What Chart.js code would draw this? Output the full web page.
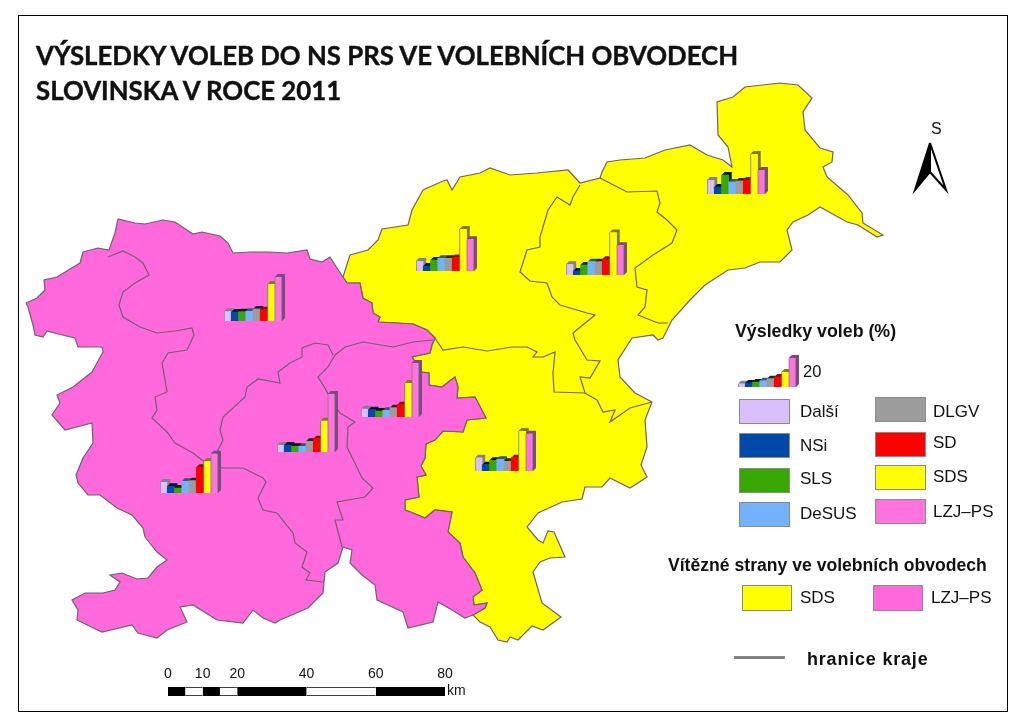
<!DOCTYPE html>
<html lang="cs">
<head>
<meta charset="utf-8">
<title>Výsledky voleb do NS PRS</title>
<script src="https://cdn.jsdelivr.net/npm/chart.js@4/dist/chart.umd.min.js"></script>
<style>
    html, body { margin: 0; padding: 0; background: #fff; overflow: hidden; }
    #page { position: relative; width: 1024px; height: 724px; overflow: hidden; }
    #page canvas { position: absolute; }
    .txt { position: absolute; white-space: nowrap; transform: translateY(-50%); color: #111; font-family: "Liberation Sans", Arial, sans-serif; }
    .box { position: absolute; box-sizing: border-box; border: 1.5px solid #8a8a8a; }
    #frame { position: absolute; left: 18px; top: 15px; width: 988px; height: 695px; border: 1px solid #000; }
</style>
</head>
<body>
<div id="page">
    <div id="frame"></div>
    <canvas id="mapChart" width="1024" height="724" style="left:0;top:0"></canvas>
</div>
<script>
// Parties, in bar order
const parties = ['Další', 'NSi', 'SLS', 'DeSUS', 'DLGV', 'SD', 'SDS', 'LZJ–PS'];
const partyColors = ['#d9bffc', '#0049a8', '#38a800', '#73b2ff', '#9c9c9c', '#ff0000', '#ffff00', '#ff73df'];
const partyDepthColors = ['#85808f', '#04122e', '#0c1a06', '#3b5270', '#26262a', '#7a1410', '#807a18', '#7c4a80'];

// Results in percent per district
const vysledkyMaribor = [9.7, 4.8, 13.1, 8.3, 9.0, 9.7, 27.6, 16.6];
const vysledkyCelje = [7.4, 2.8, 6.9, 9.2, 9.2, 10.8, 29.4, 20.5];
const vysledkyKranj = [6.9, 3.4, 7.6, 8.8, 8.8, 9.4, 29.0, 21.9];
const vysledkyPostojna = [6.7, 6.2, 6.4, 6.7, 8.3, 7.8, 25.5, 30.3];
const vysledkyLjubljanaC = [5.7, 5.0, 4.1, 4.6, 6.4, 8.5, 23.4, 37.2];
const vysledkyLjubljanaB = [4.8, 4.8, 3.9, 3.9, 7.4, 9.2, 21.6, 40.0];
const vysledkyKoper = [7.6, 4.6, 3.4, 8.1, 8.5, 17.7, 21.9, 27.1];
const vysledkyNovoMesto = [9.2, 4.3, 7.4, 8.1, 6.7, 9.2, 27.6, 25.7];
const vysledkyLegenda = [2.3, 2.8, 3.4, 4.3, 5.7, 6.9, 10.3, 20];

// Scale bar segments in km
const scaleBarStops = [0, 5, 10, 15, 20, 40, 60, 80];
const scaleBarTicks = [0, 10, 20, 40, 60, 80];

// Map outlines, in page-sized map units
const pinkOutline = [
    [26,303],[37,298],[45,290],[44,280],[57,277],[70,269],[80,263],[83,252],[98,248],[109,250],[115,233],[118,219],
    [135,223],[145,224],[163,220],[175,222],[193,234],[202,232],[220,236],[228,243],[233,253],[250,252],[268,252],
    [287,253],[307,250],[310,259],[322,262],[330,257],[337,268],[343,277],
    [347,283],[360,283],[363,298],[372,303],[373,313],[380,317],[378,322],[397,323],[413,324],[427,330],[435,338],
    [432,345],[430,353],[412,357],[422,372],[429,373],[429,385],[442,387],[455,377],[458,387],[457,398],[475,397],
    [486,418],[467,420],[463,432],[443,431],[435,440],[426,444],[425,458],[421,466],[426,475],[417,477],[419,497],
    [405,500],[405,510],[413,513],[425,518],[435,510],[452,512],[448,532],[460,543],[463,557],[475,573],[482,590],
    [473,597],[474,605],[487,603],[485,608],[473,615],
    [465,618],[452,610],[438,602],[433,622],[408,628],[403,612],[390,606],[377,600],[375,585],[362,575],[350,563],
    [352,550],[343,547],[338,563],[325,572],[323,593],[308,608],[280,620],[275,623],[263,618],[253,610],[243,623],
    [217,620],[193,605],[180,607],[187,622],[167,630],[157,638],[138,633],[132,625],[102,632],[77,620],[78,610],
    [72,600],[85,593],[103,593],[115,590],[120,582],[110,575],[122,573],[137,579],[148,578],[157,567],[167,560],
    [157,552],[145,537],[143,528],[132,515],[117,508],[100,495],[88,495],[78,483],[76,475],[83,458],[93,443],
    [92,423],[65,430],[52,415],[60,403],[57,395],[73,387],[92,372],[103,352],[102,347],[78,347],[75,338],[58,334],
    [47,331],[43,337],[35,335],[33,325],[28,307]
];
const yellowOutline = [
    [343,277],[350,255],[368,250],[378,240],[382,229],[408,225],[412,210],[423,190],[443,181],[447,180],[452,190],
    [460,177],[480,173],[490,168],[510,175],[537,173],[568,170],[580,183],[600,178],[602,172],[607,162],[620,160],
    [645,158],[665,150],[690,145],[707,155],[723,160],[732,167],[728,147],[718,135],[717,102],[733,97],[745,87],
    [780,83],[798,85],[812,98],[803,112],[805,130],[820,148],[833,152],[832,162],[823,167],[827,177],[848,195],
    [862,213],[863,223],[883,235],[877,237],[858,225],[847,222],[820,207],[808,215],[793,222],[787,230],[792,250],
    [780,262],[760,262],[745,268],[728,270],[705,285],[690,300],[672,320],[668,328],[663,338],[658,340],[653,335],
    [632,338],[618,360],[620,377],[635,393],[652,402],[645,420],[647,447],[641,465],[647,477],[630,488],[610,478],
    [602,487],[585,487],[582,499],[562,502],[538,513],[527,527],[538,540],[543,543],[548,531],[554,532],[565,557],
    [550,558],[540,562],[533,572],[542,603],[561,617],[543,630],[532,626],[518,640],[510,637],[507,642],[498,640],
    [490,627],[480,622],[473,615],
    [485,608],[487,603],[474,605],[473,597],[482,590],[475,573],[463,557],[460,543],[448,532],[452,512],[435,510],
    [425,518],[413,513],[405,510],[405,500],[419,497],[417,477],[426,475],[421,466],[425,458],[426,444],[435,440],
    [443,431],[463,432],[467,420],[486,418],[475,397],[457,398],[458,387],[455,377],[442,387],[429,385],[429,373],
    [422,372],[412,357],[430,353],[432,345],[435,338],[427,330],[413,324],[397,323],[378,322],[380,317],[373,313],
    [372,303],[363,298],[360,283],[347,283]
];

// Region borders inside the two areas
const krajBorders = [
    [[108,257],[123,251],[135,257],[143,263],[149,275],[135,283],[123,292],[119,305],[123,317],[140,327],[157,333],
     [175,331],[192,328],[194,335],[187,350],[168,353],[162,363],[165,380],[167,392],[155,397],[157,410],[152,418],
     [167,432],[175,443],[193,453],[202,460],[213,466]],
    [[333,355],[328,345],[315,343],[302,348],[302,357],[290,363],[278,372],[280,383],[258,379],[247,387],[245,397],
     [223,417],[220,430],[223,440],[217,452],[213,466],[223,468],[243,468],[263,478],[266,482],[258,498],[263,510],
     [277,513],[293,533],[295,543],[307,552],[302,567],[310,573],[306,580],[323,582]],
    [[433,340],[413,342],[393,347],[363,342],[345,347],[335,355],[328,367],[318,377],[325,388],[330,398],[340,413],
     [355,422],[348,427],[347,447],[350,453],[362,478],[373,488],[365,497],[337,502],[343,520],[335,520],[342,547]],
    [[435,338],[443,350],[463,347],[487,351],[512,347],[527,347],[537,352],[533,357],[543,357],[555,352],[553,373],
     [554,392],[585,393],[597,400],[603,412],[615,410],[610,422],[630,408],[652,402]],
    [[585,393],[580,377],[590,378],[600,361],[587,360],[575,340],[573,333],[595,315],[587,313],[560,305],[552,297],
     [547,283],[530,281],[520,272],[527,250],[540,247],[540,237],[548,210],[557,197],[570,205],[573,197],[580,185]],
    [[600,178],[627,192],[657,191],[660,203],[657,212],[667,220],[677,230],[672,243],[653,255],[635,268],[637,287],
     [647,290],[645,307],[638,315],[658,323],[668,323]]
];

// North arrow halves
const arrowLeft = [[930,143],[915,190],[930,172]];
const arrowRight = [[930,143],[946,190],[930,172]];

const borderColor = '#6f5f70';

// Small party charts: district values and where their base sits on the page
const districtCharts = [
    { values: vysledkyMaribor, left: 707, base: 194 },
    { values: vysledkyKranj, left: 416, base: 271 },
    { values: vysledkyCelje, left: 566, base: 275 },
    { values: vysledkyPostojna, left: 224, base: 321 },
    { values: vysledkyLjubljanaC, left: 361, base: 417 },
    { values: vysledkyLjubljanaB, left: 277, base: 452 },
    { values: vysledkyKoper, left: 160, base: 493 },
    { values: vysledkyNovoMesto, left: 475, base: 471 },
    { values: vysledkyLegenda, left: 738, base: 387 }
];

// Draws the top and side faces behind each bar
const barDepth = {
    id: 'barDepth',
    beforeDatasetsDraw(chart) {
        const ctx = chart.ctx;
        const d = 3;
        chart.getDatasetMeta(0).data.forEach((bar, i) => {
            const l = bar.x - bar.width / 2;
            const r = bar.x + bar.width / 2;
            ctx.fillStyle = partyDepthColors[i];
            ctx.beginPath();
            ctx.moveTo(l, bar.y);
            ctx.lineTo(l + d, bar.y - d);
            ctx.lineTo(r + d, bar.y - d);
            ctx.lineTo(r + d, bar.base - d);
            ctx.lineTo(r, bar.base);
            ctx.lineTo(r, bar.y);
            ctx.closePath();
            ctx.fill();
        });
    }
};

function polygon(points, fillColor, lineColor, lineWidth) {
    return {
        data: points.concat([points[0]]),
        borderColor: lineColor || borderColor,
        borderWidth: lineWidth || 1.2,
        backgroundColor: fillColor,
        fill: 'shape',
        showLine: true,
        pointRadius: 0,
        tension: 0
    };
}

function borderLine(points) {
    return { data: points, borderColor: borderColor, borderWidth: 1.2, fill: false, showLine: true, pointRadius: 0, tension: 0 };
}

function addText(text, x, y, size, bold, family) {
    const el = document.createElement('div');
    el.className = 'txt';
    el.textContent = text;
    el.style.left = x + 'px';
    el.style.top = y + 'px';
    el.style.fontSize = size + 'px';
    if (bold) el.style.fontWeight = 'bold';
    if (family) el.style.fontFamily = family;
    document.getElementById('page').appendChild(el);
    return el;
}

function addSwatch(color, x, y, w, h) {
    const el = document.createElement('div');
    el.className = 'box';
    el.style.cssText = `left:${x}px;top:${y}px;width:${w}px;height:${h}px;background:${color}`;
    document.getElementById('page').appendChild(el);
}

function addCanvas(left, top, width, height) {
    const canvas = document.createElement('canvas');
    canvas.width = width;
    canvas.height = height;
    canvas.style.left = left + 'px';
    canvas.style.top = top + 'px';
    document.getElementById('page').appendChild(canvas);
    return canvas;
}

document.addEventListener('DOMContentLoaded', function() {
    Chart.defaults.animation = false;
    Chart.defaults.responsive = false;
    Chart.defaults.plugins.legend.display = false;
    Chart.defaults.plugins.tooltip.enabled = false;

    // Map
    new Chart(document.getElementById('mapChart'), {
        type: 'scatter',
        data: {
            datasets: [
                polygon(arrowLeft, '#000000', '#000000', 2),
                polygon(arrowRight, '#ffffff', '#000000', 2),
                ...krajBorders.map(borderLine),
                polygon(pinkOutline, '#ff69dc'),
                polygon(yellowOutline, '#ffff00')
            ]
        },
        options: {
            layout: { padding: 0 },
            scales: {
                x: { type: 'linear', min: 0, max: 1024, display: false },
                y: { type: 'linear', min: 0, max: 724, reverse: true, display: false }
            }
        }
    });

    // Party bars on the map and in the legend
    districtCharts.forEach(item => {
        const canvas = addCanvas(item.left - 1, item.base - 71, 63, 72);
        new Chart(canvas, {
            type: 'bar',
            data: {
                labels: parties,
                datasets: [{
                    data: item.values,
                    backgroundColor: partyColors,
                    borderColor: '#7d7d7d',
                    // Bars sit flush, only the outer and the two tall bars keep a side line
                    borderWidth: ctx => ({
                        top: 0,
                        bottom: 1,
                        left: ctx.dataIndex === 0 || ctx.dataIndex >= 6 ? 1 : 0,
                        right: ctx.dataIndex === 7 ? 1 : 0
                    }),
                    barPercentage: 1,
                    categoryPercentage: 1
                }]
            },
            options: {
                layout: { padding: { left: 1, right: 4, top: 0, bottom: 1 } },
                scales: {
                    x: { display: false },
                    y: { display: false, min: 0, max: 49 }
                }
            },
            plugins: [barDepth]
        });
    });

    // Scale bar
    const scaleColors = ['#000', '#fff', '#000', '#fff', '#000', '#fff', '#000'];
    const scaleCanvas = addCanvas(148, 665, 317, 32);
    new Chart(scaleCanvas, {
        type: 'bar',
        data: {
            labels: ['km'],
            datasets: scaleBarStops.slice(1).map((stop, i) => ({
                data: [stop - scaleBarStops[i]],
                backgroundColor: scaleColors[i],
                borderColor: '#000',
                borderWidth: { top: 1, bottom: 1, left: 0, right: 0 },
                barPercentage: 1,
                categoryPercentage: 1
            }))
        },
        options: {
            indexAxis: 'y',
            layout: { padding: { left: 20, right: 20, top: 0, bottom: 1 } },
            scales: {
                x: {
                    type: 'linear',
                    stacked: true,
                    position: 'top',
                    min: 0,
                    max: 80,
                    border: { display: false },
                    grid: { display: false, drawTicks: false },
                    afterBuildTicks: axis => { axis.ticks = scaleBarTicks.map(v => ({ value: v })); },
                    afterFit: axis => { axis.height = 22; },
                    ticks: {
                        autoSkip: false,
                        maxRotation: 0,
                        padding: 4,
                        color: '#111',
                        font: { family: '"Liberation Sans"', size: 14 }
                    }
                },
                y: { stacked: true, display: false }
            }
        }
    });
    addText('km', 447, 690, 14);

    // Title
    const titleFont = 'Lato, sans-serif';
    const titleLines = [
        addText('VÝSLEDKY VOLEB DO NS PRS VE VOLEBNÍCH OBVODECH', 36, 55, 25.8, true, titleFont),
        addText('SLOVINSKA V ROCE 2011', 36, 90, 25.8, true, titleFont)
    ];
    titleLines.forEach(el => { el.style.webkitTextStroke = '0.4px #111'; });
    addText('S', 931, 129, 16);

    // Results legend
    addText('Výsledky voleb (%)', 735, 331, 17.8, true);
    addText('20', 803, 371, 16.5);
    const legendRows = [
        [739, 399, 800, 412], [739, 433, 800, 446], [739, 468, 800, 479], [739, 502, 800, 514],
        [875, 397, 933, 412], [875, 432, 933, 443], [875, 465, 933, 477], [875, 499, 933, 512]
    ];
    legendRows.forEach((row, i) => {
        addSwatch(partyColors[i], row[0], row[1], 51, 25);
        addText(parties[i], row[2], row[3], 17);
    });

    // Winners legend
    addText('Vítězné strany ve volebních obvodech', 668, 565, 17.6, true);
    addSwatch('#ffff00', 742, 585, 50, 26);
    addText('SDS', 800, 598, 17);
    addSwatch('#ff69dc', 873, 585, 50, 26);
    addText('LZJ–PS', 931, 598, 17);
    addSwatch('#777777', 734, 656, 51, 2.5);
    addText('hranice kraje', 807, 659, 18, true).style.letterSpacing = '0.8px';
});
</script>
</body>
</html>
